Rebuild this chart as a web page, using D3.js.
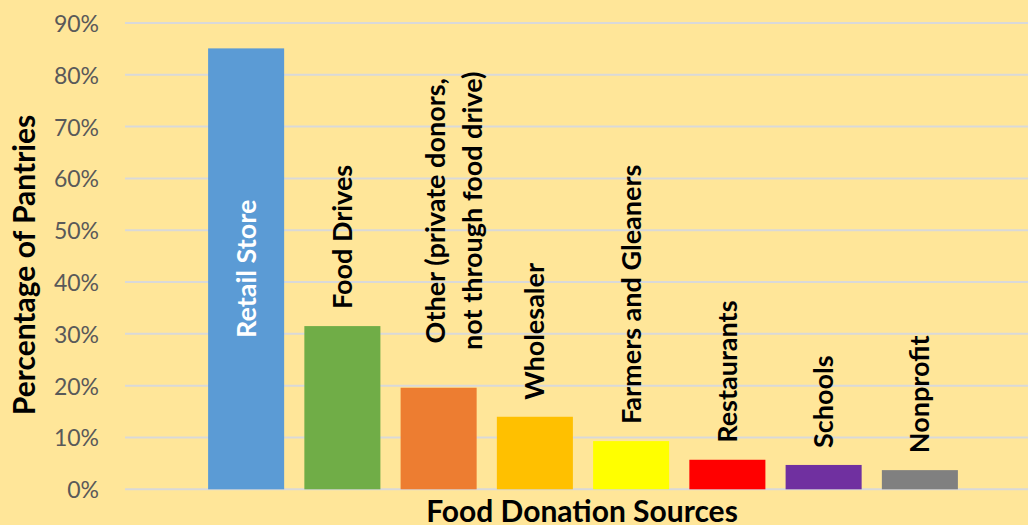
<!DOCTYPE html>
<html lang="en">
<head>
    <meta charset="UTF-8">
    <title>Food Donation Sources</title>
    <script src="https://d3js.org/d3.v7.min.js"></script>
    <style>
        body { margin: 0; background: #FFE699; }
        svg { display: block; font-family: Lato, "Open Sans", sans-serif; }
        .tick-label { fill: #595959; font-size: 23px; }
        .axis-title { fill: #000; font-size: 30px; font-weight: bold; }
        .bar-label { font-size: 27px; font-weight: bold; }
    </style>
</head>
<body>
    <div id="chart"></div>
    <script>
        const categories = ["Retail Store", "Food Drives", "Other", "Wholesaler",
            "Farmers and Gleaners", "Restaurants", "Schools", "Nonprofit"];
        const values = [0.851, 0.315, 0.196, 0.140, 0.093, 0.057, 0.047, 0.037];
        const labelLines = [["Retail Store"], ["Food Drives"],
            ["Other (private donors,", "not through food drive)"], ["Wholesaler"],
            ["Farmers and Gleaners"], ["Restaurants"], ["Schools"], ["Nonprofit"]];
        const colors = ["#5B9BD5", "#70AD47", "#ED7D31", "#FFC000",
            "#FFFF00", "#FF0000", "#7030A0", "#808080"];
        const yTicks = [0, 0.1, 0.2, 0.3, 0.4, 0.5, 0.6, 0.7, 0.8, 0.9];

        const width = 1028, height = 525;
        const svg = d3.select("#chart").append("svg")
            .attr("width", width)
            .attr("height", height);

        svg.append("rect").attr("width", width).attr("height", height).attr("fill", "#FFE699");

        const x = d3.scaleBand()
            .domain(categories)
            .range([198, 968])
            .paddingInner(0.21)
            .paddingOuter(0.105);

        const y = d3.scaleLinear()
            .domain([0, 0.9])
            .range([489.3, 23]);

        // gridlines
        svg.append("g")
            .selectAll("line")
            .data(yTicks)
            .join("line")
            .attr("x1", 125)
            .attr("x2", width)
            .attr("y1", d => y(d))
            .attr("y2", d => y(d))
            .attr("stroke", "#D9D9D9")
            .attr("stroke-width", 2);

        // tick labels
        svg.append("g")
            .selectAll("text")
            .data(yTicks)
            .join("text")
            .attr("class", "tick-label")
            .attr("x", 99)
            .attr("y", d => y(d))
            .attr("text-anchor", "end")
            .attr("dominant-baseline", "central")
            .text(d3.format(".0%"));

        // bars
        svg.append("g")
            .selectAll("rect")
            .data(categories)
            .join("rect")
            .attr("x", d => x(d))
            .attr("y", (d, i) => y(values[i]))
            .attr("width", x.bandwidth())
            .attr("height", (d, i) => y(0) - y(values[i]))
            .attr("fill", (d, i) => colors[i]);

        // bar labels, rotated
        categories.forEach((c, i) => {
            const cx = x(c) + x.bandwidth() / 2;
            const lines = labelLines[i];
            if (i === 0) {
                // inside the bar, centred
                const cy = (y(values[i]) + y(0)) / 2;
                svg.append("text")
                    .attr("class", "bar-label")
                    .attr("fill", "#fff")
                    .attr("transform", `translate(${cx},${cy}) rotate(-90)`)
                    .attr("text-anchor", "middle")
                    .attr("dy", "0.35em")
                    .text(lines[0]);
                return;
            }
            if (lines.length === 1) {
                svg.append("text")
                    .attr("class", "bar-label")
                    .attr("fill", "#000")
                    .attr("transform", `translate(${cx},${y(values[i]) - 17}) rotate(-90)`)
                    .attr("text-anchor", "start")
                    .attr("dy", "0.35em")
                    .text(lines[0]);
            } else {
                // two-line label, lines centred on each other
                const cy = y(values[i]) - 36 - 141;
                const offs = [-3, 34];
                lines.forEach((l, j) => {
                    svg.append("text")
                        .attr("class", "bar-label")
                        .attr("fill", "#000")
                        .attr("transform", `translate(${cx + offs[j]},${cy}) rotate(-90)`)
                        .attr("text-anchor", "middle")
                        .attr("dy", "0.35em")
                        .text(l);
                });
            }
        });

        // axis titles
        svg.append("text")
            .attr("class", "axis-title")
            .attr("transform", "translate(24,265) rotate(-90)")
            .attr("text-anchor", "middle")
            .attr("dy", "0.35em")
            .text("Percentage of Pantries");

        svg.append("text")
            .attr("class", "axis-title")
            .attr("x", 582)
            .attr("y", 522)
            .attr("text-anchor", "middle")
            .text("Food Donation Sources");
    </script>
</body>
</html>
